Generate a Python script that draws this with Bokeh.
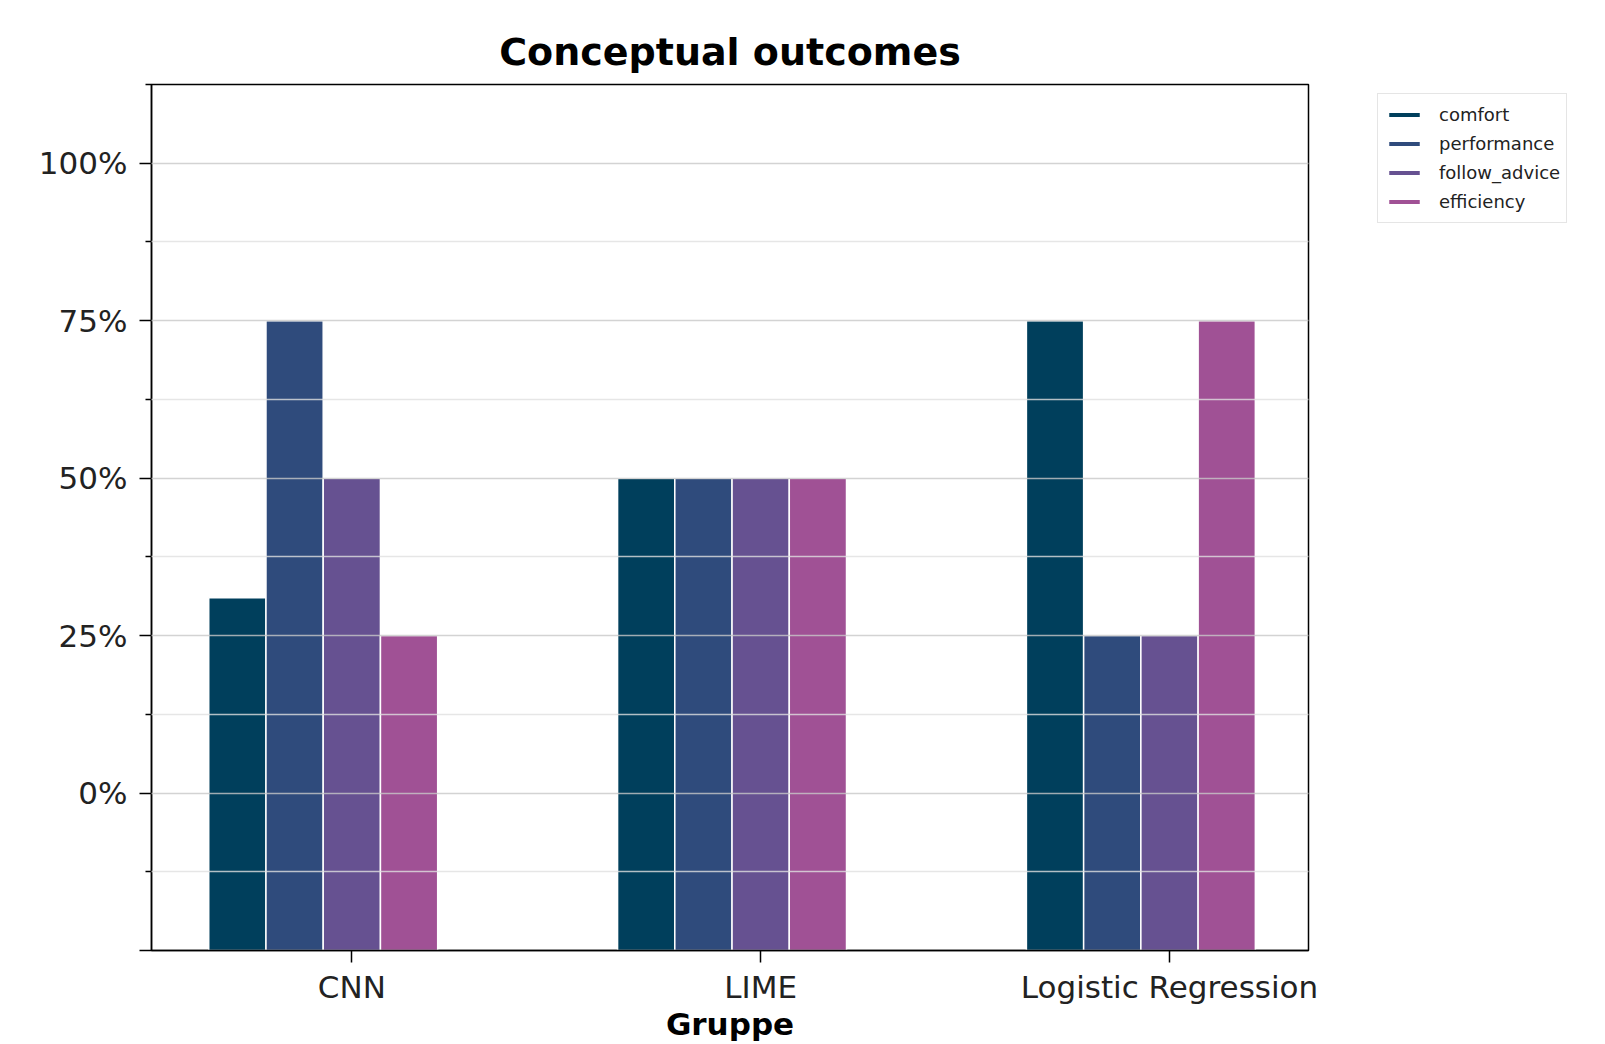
from bokeh.plotting import figure
from bokeh.layouts import row
from bokeh.models import (ColumnDataSource, FixedTicker, Legend, LegendItem,
                          Range1d, NumeralTickFormatter)
from bokeh.embed import file_html
from bokeh.resources import INLINE

# ---- data ----
groups = ["CNN", "LIME", "Logistic Regression"]
series = ["comfort", "performance", "follow_advice", "efficiency"]
comfort = [0.31, 0.50, 0.75]
performance = [0.75, 0.50, 0.25]
follow_advice = [0.50, 0.50, 0.25]
efficiency = [0.25, 0.50, 0.75]
values = [comfort, performance, follow_advice, efficiency]
colors = ["#003f5c", "#2f4b7c", "#665191", "#a05195"]
y_major = [-0.25, 0.0, 0.25, 0.5, 0.75, 1.0]
y_minor = [-0.125, 0.125, 0.375, 0.625, 0.875, 1.125]
title_text = "Conceptual outcomes"
x_title = "Gruppe"

FONT = "DejaVu Sans"
bar_w = 0.14
y_lo, y_hi = -0.25, 1.125

p = figure(width=1340, height=1044, output_backend="svg", toolbar_location=None,
           x_range=Range1d(-0.49, 2.34), y_range=Range1d(y_lo, y_hi),
           min_border_left=151, min_border_top=84, min_border_right=32,
           min_border_bottom=0)

p.title.text = title_text
p.title.align = "center"
p.title.text_font = FONT
p.title.text_font_size = "38px"
p.title.text_font_style = "bold"
p.title.text_color = "#000000"
p.title.standoff = 21

# legend-only panel to the right of the axes
p2 = figure(width=242, height=1044, output_backend="svg", toolbar_location=None,
            x_range=p.x_range, y_range=p.y_range, min_border=0,
            x_axis_location=None, y_axis_location=None)
p2.xgrid.grid_line_color = None
p2.ygrid.grid_line_color = None
p2.outline_line_color = None

legend_items = []
for k, (name, vals, col) in enumerate(zip(series, values, colors)):
    xs = [i + (k - 2) * bar_w for i in range(len(groups))]
    src = ColumnDataSource(dict(x=xs, top=vals, grp=groups))
    p.vbar(x="x", top="top", bottom=y_lo, width=bar_w, source=src,
           fill_color=col, line_color="white", line_width=1.5)
    # same bars registered (hidden) in the legend panel so the legend can show them
    r2 = p2.vbar(x="x", top="top", bottom=y_lo, width=bar_w, source=src,
                 fill_color=col, line_color="white", line_width=1.5, visible=False)
    legend_items.append(LegendItem(label=name, renderers=[r2]))

# axes
p.xaxis.ticker = FixedTicker(ticks=list(range(len(groups))))
p.xaxis.major_label_overrides = {i: g for i, g in enumerate(groups)}
p.xaxis.axis_label = x_title
p.xaxis.axis_label_text_font = FONT
p.xaxis.axis_label_text_font_style = "bold"
p.xaxis.axis_label_text_font_size = "31px"
p.xaxis.axis_label_text_color = "#000000"
p.xaxis.axis_label_standoff = -2
p.xaxis.major_label_standoff = 6

p.yaxis.ticker = FixedTicker(ticks=y_major, minor_ticks=y_minor)
p.yaxis.formatter = NumeralTickFormatter(format="0%")
p.yaxis.major_label_overrides = {-0.25: ""}
p.yaxis.major_label_standoff = 12

for ax in (p.xaxis[0], p.yaxis[0]):
    ax.major_label_text_font = FONT
    ax.major_label_text_font_size = "31px"
    ax.major_label_text_color = "#222222"
    ax.axis_line_color = "black"
    ax.axis_line_width = 1.5
    ax.major_tick_line_color = "black"
    ax.major_tick_line_width = 1.5
    ax.minor_tick_line_color = "black"
    ax.minor_tick_line_width = 1.5
    ax.major_tick_out = 12
    ax.major_tick_in = 0
    ax.minor_tick_out = 6
    ax.minor_tick_in = 0
p.xaxis.minor_tick_line_color = None

p.xgrid.grid_line_color = None
p.ygrid.ticker = FixedTicker(ticks=y_major, minor_ticks=y_minor)
p.ygrid.grid_line_color = "#c8c8c8"
p.ygrid.grid_line_alpha = 0.8
p.ygrid.grid_line_width = 1.5
p.ygrid.minor_grid_line_color = "#e0e0e0"
p.ygrid.minor_grid_line_alpha = 0.8
p.ygrid.minor_grid_line_width = 1.5
p.ygrid.level = "overlay"

p.outline_line_color = "black"
p.outline_line_width = 1.5
p.outline_line_alpha = 1.0

legend = Legend(items=legend_items, location=(37, 727))
legend.label_text_font = FONT
legend.label_text_font_size = "18px"
legend.label_text_color = "#222222"
legend.label_height = 29
legend.glyph_height = 7
legend.glyph_width = 40
legend.label_standoff = 15
legend.spacing = 0
legend.padding = 6
legend.margin = 0
legend.border_line_color = "#cccccc"
legend.border_line_width = 1.5
legend.background_fill_color = "white"
legend.background_fill_alpha = 1.0
legend.inactive_fill_alpha = 0.0
p2.add_layout(legend, "center")

layout = row(p, p2)
open("out.html", "w").write(file_html(layout, INLINE))
